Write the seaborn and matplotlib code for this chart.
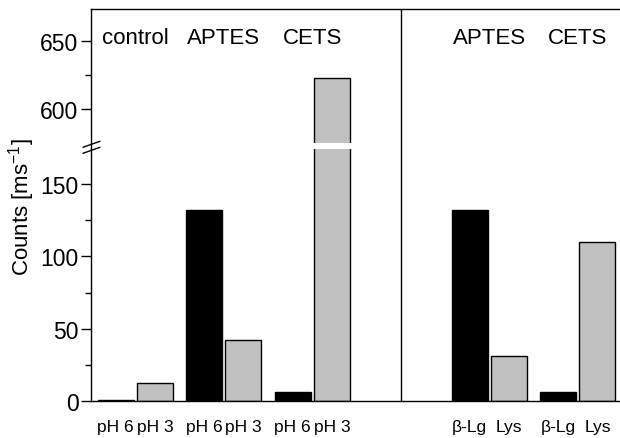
import numpy as np
import pandas as pd
import matplotlib
matplotlib.use("Agg")
import matplotlib.pyplot as plt
import seaborn as sns
from matplotlib.lines import Line2D
from matplotlib.transforms import blended_transform_factory

# ---- data ----
left_groups = ["control", "APTES", "CETS"]
left_conditions = ["pH 6", "pH 3"]
left_black = [1.0, 132.0, 6.4]      # pH 6
left_gray = [12.4, 42.4, 622.7]     # pH 3
right_groups = ["APTES", "CETS"]
right_conditions = ["β-Lg", "Lys"]
right_black = [132.0, 6.4]          # β-Lg
right_gray = [31.1, 110.2]          # Lys

sns.set_style("ticks")
plt.rcParams["font.family"] = ["Liberation Sans", "DejaVu Sans"]
plt.rcParams["mathtext.fontset"] = "custom"
plt.rcParams["mathtext.rm"] = "Liberation Sans"
plt.rcParams["mathtext.it"] = "Liberation Sans:italic"
for k in ("text.color", "axes.labelcolor", "xtick.color", "ytick.color",
          "axes.edgecolor"):
    plt.rcParams[k] = "black"

left_centers = [0.5, 1.5, 2.5]
right_centers = [4.5, 5.5]
off = 0.223
rows = []
for c, g, b, gr in zip(left_centers, left_groups, left_black, left_gray):
    rows.append(dict(pos=c - off, value=b, kind="a", label=left_conditions[0], group=g))
    rows.append(dict(pos=c + off, value=gr, kind="b", label=left_conditions[1], group=g))
for c, g, b, gr in zip(right_centers, right_groups, right_black, right_gray):
    rows.append(dict(pos=c - off, value=b, kind="a", label=right_conditions[0], group=g))
    rows.append(dict(pos=c + off, value=gr, kind="b", label=right_conditions[1], group=g))
df = pd.DataFrame(rows)

W, H = 620, 439
fig = plt.figure(figsize=(W / 100, H / 100), dpi=100)


def rect(x0, y0, x1, y1):
    return [x0 / W, 1 - y1 / H, (x1 - x0) / W, (y1 - y0) / H]


ax_bot = fig.add_axes(rect(91, 150, 622, 402))
ax_top = fig.add_axes(rect(91, 10, 622, 144))
palette = {"a": "#000000", "b": "#c0c0c0"}

for ax in (ax_top, ax_bot):
    sns.barplot(data=df, x="pos", y="value", hue="kind", palette=palette,
                native_scale=True, dodge=False, width=0.912, saturation=1,
                errorbar=None, edgecolor="black", linewidth=1.0,
                legend=False, ax=ax)
    ax.set_xlim(0, 6)
    ax.set_xlabel("")
    ax.set_ylabel("")
    ax.spines["right"].set_visible(False)
    for s in ax.spines.values():
        s.set_linewidth(1.0)
        s.set_color("black")
    ax.tick_params(axis="y", which="major", direction="out", length=7,
                   width=1.0, labelsize=16.5, pad=2, colors="black")
    ax.tick_params(axis="y", which="minor", direction="out", length=4,
                   width=1.0, colors="black")

ax_bot.set_ylim(0, 174.3)
ax_bot.set_yticks([0, 50, 100, 150])
ax_bot.set_yticks([25, 75, 125], minor=True)
ax_bot.spines["top"].set_visible(False)
ax_bot.set_xticks(df["pos"], labels=df["label"])
ax_bot.tick_params(axis="x", length=0, pad=13, labelsize=12.5, colors="black")

ax_top.set_ylim(575.1, 673.2)
ax_top.set_yticks([600, 650])
ax_top.set_yticks([625], minor=True)
ax_top.spines["bottom"].set_visible(False)
ax_top.set_xticks([])

for c, g in zip(left_centers + right_centers, left_groups + right_groups):
    ax_top.text(c, 652, g, ha="center", va="center", fontsize=16, color="black")

# divider between the two panels
trans = blended_transform_factory(ax_bot.transData, fig.transFigure)
fig.add_artist(Line2D([3.5, 3.5], [1 - 402 / H, 1 - 10 / H], transform=trans,
                      color="black", lw=1.0))
# left spine continuity across the break + break marks
fig.add_artist(Line2D([91 / W, 91 / W], [1 - 150 / H, 1 - 144 / H],
                      color="black", lw=1.0))
for y0 in (148.3, 154.3):
    fig.add_artist(Line2D([83 / W, 100 / W], [1 - y0 / H, 1 - (y0 - 6) / H],
                          color="black", lw=1.0))

fig.text(22 / W, 1 - 207 / H, "Counts [ms$^{-1}$]", rotation=90,
         ha="center", va="center", fontsize=16, color="black")

fig.savefig("out.png", dpi=100)
